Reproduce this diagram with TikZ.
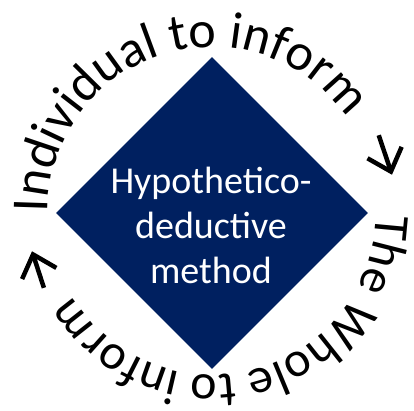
\documentclass[tikz,border=0pt]{standalone}
\usepackage{fontspec}
\setmainfont{Carlito}
\usetikzlibrary{shapes.geometric,decorations.text,arrows.meta}

\definecolor{deepnavy}{HTML}{002060}

\tikzset{
  methodbox/.style={diamond, fill=deepnavy, minimum size=312pt, inner sep=0pt},
  methodtext/.style={text=white, align=center, font=\fontsize{38}{45}\selectfont},
  cyclearrow/.style={line width=4.5pt, -{Straight Barb[length=20pt,width=36pt]}},
}

\begin{document}
\begin{tikzpicture}[x=1pt,y=1pt]
        \useasboundingbox (-212,-198) rectangle (202,213);

        \node[methodbox] (method) at (0,0) {};
        \node[methodtext] (methodlabel) at (-1,-12) {Hypothetico-\\deductive\\method};

        % ring of text, read clockwise
        \path[decorate, decoration={text along path, text align=center,
                text={|\fontsize{52}{62}\selectfont|Individual to inform}}]
                (0,2) ++(193:164) arc[start angle=193, end angle=22, radius=164];
        \path[decorate, decoration={text along path, text align=center,
                text={|\fontsize{50}{60}\selectfont|The Whole to inform}}]
                (0,2) ++(10:164) arc[start angle=10, end angle=-160, radius=164];

        \coordinate (righttail) at (25:184);
        \coordinate (righthead) at (12:184);
        \coordinate (lefttail) at (204:184);
        \coordinate (lefthead) at (192:184);
        \draw[cyclearrow] (righttail) -- (righthead);
        \draw[cyclearrow] (lefttail) -- (lefthead);
\end{tikzpicture}
\end{document}
